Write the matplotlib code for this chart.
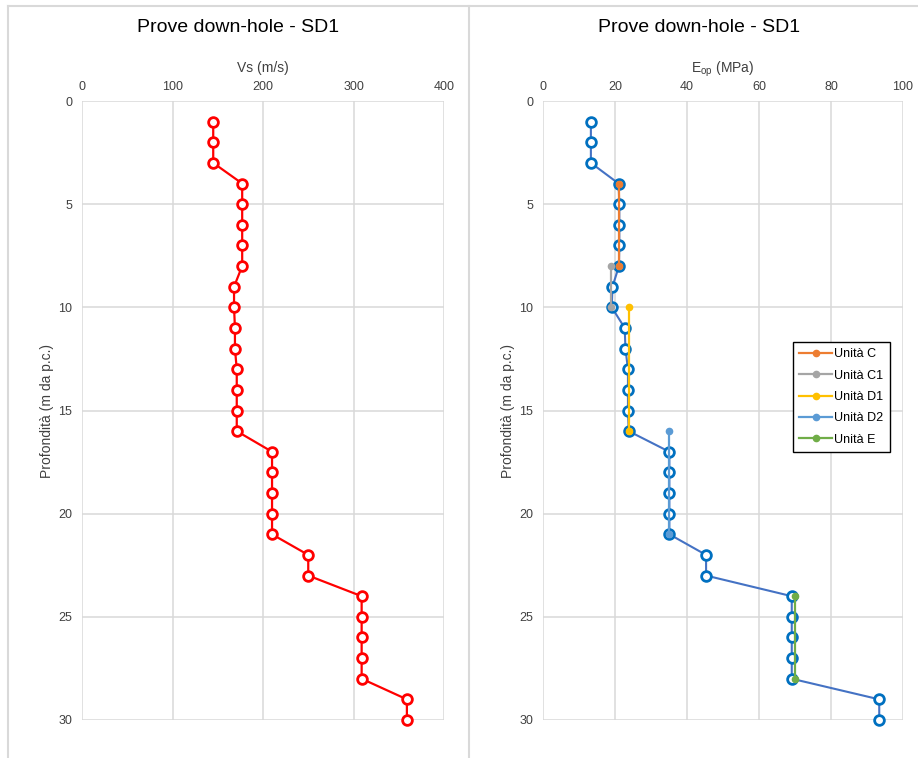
import matplotlib
matplotlib.use("Agg")
import matplotlib.pyplot as plt
from matplotlib.lines import Line2D

plt.rcParams['font.family'] = ['Liberation Sans', 'DejaVu Sans']

# ---- data ----
depth = list(range(1, 31))
vs = [145, 145, 145, 177, 177, 177, 177, 177, 168, 168,
      169, 169, 171, 171, 171, 171, 210, 210, 210, 210,
      210, 250, 250, 309, 309, 309, 309, 309, 359, 359]
eop = [13.3, 13.3, 13.3, 21.0, 21.2, 21.2, 21.2, 21.1, 19.3, 19.1,
       22.7, 22.9, 23.6, 23.6, 23.6, 23.8, 35.1, 35.1, 35.1, 35.1,
       35.1, 45.3, 45.3, 69.1, 69.1, 69.1, 69.1, 69.1, 93.4, 93.4]

unit_names = ["Unità C", "Unità C1", "Unità D1", "Unità D2", "Unità E"]
unit_depths = [[4, 8], [8, 10], [10, 16], [16, 21], [24, 28]]
unit_eop = [[21.0, 21.0], [18.9, 18.9], [24.0, 24.0], [35.1, 35.1], [70.0, 70.0]]
unit_colors = ["#ED7D31", "#A5A5A5", "#FFC000", "#5B9BD5", "#70AD47"]

vs_ticks = [0, 100, 200, 300, 400]
eop_ticks = [0, 20, 40, 60, 80, 100]
depth_ticks = [0, 5, 10, 15, 20, 25, 30]

title = "Prove down-hole - SD1"

W, H = 918, 758
fig = plt.figure(figsize=(W / 100, H / 100), dpi=100)

# chart-area borders
border_col = "#D9D9D9"
fig.add_artist(Line2D([8 / W, 8 / W], [0, 1 - 6 / H], transform=fig.transFigure, color=border_col, lw=1.5))
fig.add_artist(Line2D([469 / W, 469 / W], [0, 1 - 6 / H], transform=fig.transFigure, color=border_col, lw=1.5))
fig.add_artist(Line2D([8 / W, 1], [1 - 6 / H, 1 - 6 / H], transform=fig.transFigure, color=border_col, lw=1.5))

grid_col = "#D9D9D9"


def make_axes(left_px, right_px, xmax, xticks, xlabel):
    ax = fig.add_axes([left_px / W, 1 - 720 / H, (right_px - left_px) / W, (720 - 101) / H])
    ax.set_xlim(0, xmax)
    ax.set_ylim(30, 0)
    ax.set_xticks(xticks)
    ax.set_yticks(depth_ticks)
    ax.xaxis.tick_top()
    ax.xaxis.set_label_position('top')
    for s in ax.spines.values():
        s.set_visible(False)
    ax.grid(True, color=grid_col, lw=1.1)
    ax.set_axisbelow(True)
    ax.tick_params(length=0, labelsize=9, colors="#404040", pad=7)
    ax.tick_params(axis='x', pad=6)
    ax.set_xlabel(xlabel, fontsize=10, color="#404040", labelpad=6)
    ax.set_ylabel("Profondità (m da p.c.)", fontsize=10, color="#404040", labelpad=3)
    ax.set_facecolor("white")
    return ax


ax1 = make_axes(82, 444, 400, vs_ticks, "Vs (m/s)")
ax2 = make_axes(543, 903, 100, eop_ticks, r"E$_{\mathregular{op}}$ (MPa)")

fig.text(238 / W, 1 - 28 / H, title, ha='center', va='center', fontsize=14, color="#000000")
fig.text(699 / W, 1 - 28 / H, title, ha='center', va='center', fontsize=14, color="#000000")

# left: Vs
ax1.plot(vs, depth, color="#FF0000", lw=1.6, marker='o', markersize=7,
         markerfacecolor='white', markeredgecolor="#FF0000", markeredgewidth=2.0,
         clip_on=False, zorder=3)

# right: Eop
ax2.plot(eop, depth, color="#4472C4", lw=1.5, marker='o', markersize=7,
         markerfacecolor='white', markeredgecolor="#0070C0", markeredgewidth=2.0,
         clip_on=False, zorder=3)

for name, d, e, c in zip(unit_names, unit_depths, unit_eop, unit_colors):
    ax2.plot(e, d, color=c, lw=1.6, marker='o', markersize=4.5,
             markerfacecolor=c, markeredgecolor=c, label=name, zorder=4)

leg = ax2.legend(loc='upper left', bbox_to_anchor=((793 - 543) / 360, (720 - 342) / 619),
                 fontsize=9, frameon=True, fancybox=False, framealpha=1,
                 edgecolor="black", handlelength=2.6, handletextpad=0.2,
                 borderpad=0.5, labelspacing=0.75, borderaxespad=0)
leg.get_frame().set_linewidth(1.0)

fig.savefig("out.png", dpi=100, facecolor="white")
